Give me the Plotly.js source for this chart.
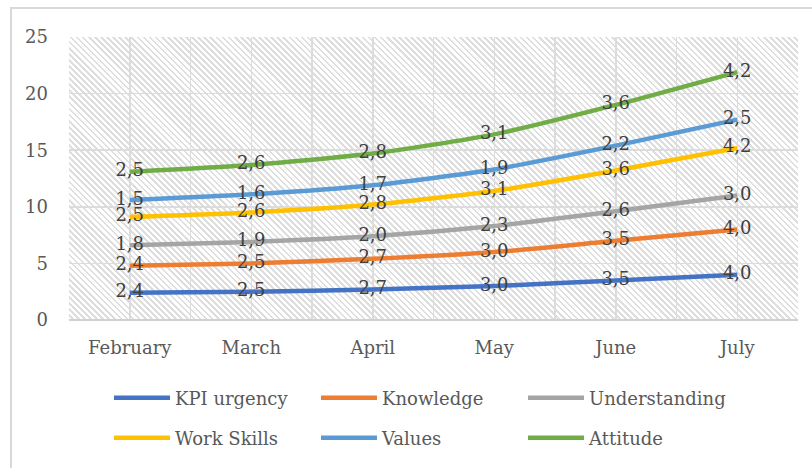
<!DOCTYPE html>
<html>
<head>
<meta charset="utf-8">
<script src="https://cdn.plot.ly/plotly-3.0.1.min.js"></script>
<style>
  html, body { margin:0; padding:0; width:812px; height:468px; overflow:hidden; background:#fff; }
  #frame { position:absolute; left:10px; top:7px; width:900px; height:600px; border-left:2px solid #d9d9d9; border-top:2px solid #d9d9d9; box-sizing:border-box; }
  #hatch { position:absolute; left:69px; top:37px; width:729px; height:283px;
    background: repeating-linear-gradient(45deg, #ffffff 0px, #ffffff 2.4px, #dedede 2.4px, #dedede 4.3px); }
  #chart { position:absolute; left:0; top:0; width:812px; height:468px; }
</style>
</head>
<body>
<div id="frame"></div>
<div id="hatch"></div>
<div id="chart"></div>
<script>
const months = ["February", "March", "April", "May", "June", "July"];
const kpiUrgency    = [2.4, 2.5, 2.7, 3.0, 3.5, 4.0];
const knowledge     = [2.4, 2.5, 2.7, 3.0, 3.5, 4.0];
const understanding = [1.8, 1.9, 2.0, 2.3, 2.6, 3.0];
const workSkills    = [2.5, 2.6, 2.8, 3.1, 3.6, 4.2];
const valuesSeries  = [1.5, 1.6, 1.7, 1.9, 2.2, 2.5];
const attitude      = [2.5, 2.6, 2.8, 3.1, 3.6, 4.2];
const yTicks = [0, 5, 10, 15, 20, 25];

const seriesNames  = ["KPI urgency", "Knowledge", "Understanding", "Work Skills", "Values", "Attitude"];
const seriesData   = [kpiUrgency, knowledge, understanding, workSkills, valuesSeries, attitude];
const seriesColors = ["#4472C4", "#ED7D31", "#A5A5A5", "#FFC000", "#5B9BD5", "#70AD47"];

const FONT = "DejaVu Serif";
const xIdx = months.map((m, i) => i);
const legendIds = ["legend", "legend2", "legend3", "legend4", "legend5", "legend6"];

const traces = seriesData.map((vals, i) => ({
  type: "scatter",
  mode: "lines+text",
  name: seriesNames[i],
  x: xIdx,
  y: vals,
  stackgroup: "one",
  fill: "none",
  line: { color: seriesColors[i], width: 4.5, shape: "spline", smoothing: 0.6 },
  text: vals.map(v => v.toFixed(1).replace(".", ",")),
  textposition: "middle center",
  textfont: { family: FONT, size: 18, color: "#404040" },
  legend: legendIds[i],
  hoverinfo: "skip"
}));

const legendCommon = {
  orientation: "h",
  xref: "container", yref: "container",
  xanchor: "left", yanchor: "middle",
  font: { family: FONT, size: 18, color: "#595959" },
  bgcolor: "rgba(0,0,0,0)",
  itemwidth: 56
};
const legendCols = [109, 316, 523];
const legendRows = [398, 438];

const layout = {
  width: 812, height: 468,
  margin: { l: 69, r: 14, t: 37, b: 148 },
  paper_bgcolor: "rgba(0,0,0,0)",
  plot_bgcolor: "rgba(0,0,0,0)",
  font: { family: FONT, size: 18, color: "#595959" },
  xaxis: {
    type: "linear",
    range: [-0.5, 5.5],
    tickmode: "array",
    tickvals: xIdx,
    ticktext: months,
    showgrid: true, gridcolor: "#dcdcdc", gridwidth: 1.5,
    minor: { tickmode: "array", tickvals: [-0.5, 0.5, 1.5, 2.5, 3.5, 4.5, 5.5], showgrid: true, gridcolor: "#dcdcdc", gridwidth: 1.5, ticks: "" },
    zeroline: false,
    showline: false,
    ticks: "",
    ticklabelstandoff: 15,
    fixedrange: true
  },
  yaxis: {
    range: [0, 25],
    tickmode: "array",
    tickvals: yTicks,
    showgrid: true, gridcolor: "#dcdcdc", gridwidth: 1.5,
    zeroline: true, zerolinecolor: "#d0d0d0", zerolinewidth: 2,
    ticks: "",
    ticklabelstandoff: 20,
    fixedrange: true
  },
  showlegend: true
};
legendIds.forEach((id, i) => {
  layout[id] = Object.assign({}, legendCommon, {
    x: legendCols[i % 3] / 812,
    y: 1 - legendRows[Math.floor(i / 3)] / 468
  });
});

Plotly.newPlot("chart", traces, layout, { displayModeBar: false, staticPlot: true });
</script>
</body>
</html>
